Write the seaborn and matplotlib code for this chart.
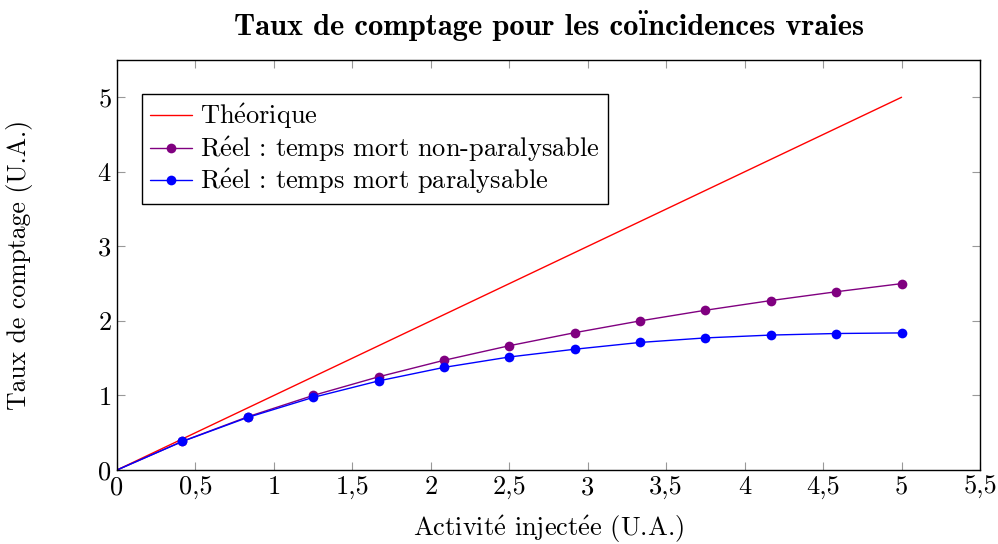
import matplotlib
matplotlib.use("Agg")
import matplotlib.pyplot as plt
import seaborn as sns
import pandas as pd
from matplotlib.ticker import FuncFormatter

# activity points (U.A.)
activite = [0, 0.417, 0.833, 1.25, 1.667, 2.083, 2.5, 2.917, 3.333, 3.75, 4.167, 4.583, 5]
theorique = [0, 0.417, 0.833, 1.25, 1.667, 2.083, 2.5, 2.917, 3.333, 3.75, 4.167, 4.583, 5]
non_paralysable = [0, 0.385, 0.714, 1.0, 1.25, 1.471, 1.667, 1.842, 2.0, 2.143, 2.273, 2.391, 2.5]
paralysable = [0, 0.383, 0.705, 0.974, 1.195, 1.376, 1.516, 1.620, 1.711, 1.772, 1.810, 1.831, 1.839]

# cmr10 has no precomposed accents, so build é with mathtext
E = r"$\acute{\mathrm{e}}$"
labels = ["Th" + E + "orique",
          "R" + E + "el : temps mort non-paralysable",
          "R" + E + "el : temps mort paralysable"]
xlabel = "Activit" + E + " inject" + E + "e (U.A.)"
ticks = [0, 0.5, 1, 1.5, 2, 2.5, 3, 3.5, 4, 4.5, 5, 5.5]

sns.set_style("ticks")
plt.rcParams["font.family"] = ["cmr10", "DejaVu Serif"]
plt.rcParams["axes.formatter.use_mathtext"] = True
plt.rcParams["mathtext.fontset"] = "cm"
plt.rcParams["text.color"] = "black"
plt.rcParams["axes.labelcolor"] = "black"

df = pd.DataFrame({"x": activite, "th": theorique, "np": non_paralysable, "p": paralysable})

fig = plt.figure(figsize=(9.98, 5.44), dpi=100)
ax = fig.add_axes([117 / 998, 1 - 470 / 544, (980 - 117) / 998, (470 - 60) / 544])

marks = list(range(1, len(activite)))
sns.lineplot(data=df, x="x", y="th", ax=ax, color="#ff0000", lw=1.0, label=labels[0])
sns.lineplot(data=df, x="x", y="np", ax=ax, color="#800080", lw=1.0, marker="o",
             markersize=7, markeredgewidth=0, markevery=marks, label=labels[1])
sns.lineplot(data=df, x="x", y="p", ax=ax, color="#0000ff", lw=1.0, marker="o",
             markersize=7, markeredgewidth=0, markevery=marks, label=labels[2])

ax.set_xlim(0, 5.5)
ax.set_ylim(0, 5.5)
ax.set_xticks(ticks)
ax.set_yticks([0, 1, 2, 3, 4, 5])
ax.xaxis.set_major_formatter(FuncFormatter(lambda v, p: f"{v:g}".replace(".", ",")))
ax.tick_params(direction="in", length=6, width=0.8, color="#999999", labelsize=19,
               top=True, right=True, labelcolor="black", pad=4)
for s in ax.spines.values():
    s.set_color("black")
    s.set_linewidth(1.0)

ax.set_xlabel(xlabel, fontsize=19, labelpad=10)
ax.set_ylabel("Taux de comptage (U.A.)", fontsize=18.5)
ax.yaxis.set_label_coords(-0.097, 0.5)
ax.set_title("Taux de comptage pour les coïncidences vraies", fontsize=22,
             fontfamily=["cmb10", "DejaVu Serif"], pad=18)

leg = ax.legend(loc="upper left", bbox_to_anchor=(0.029, 0.917), fontsize=19, frameon=True,
                fancybox=False, framealpha=1, edgecolor="black", handlelength=1.6,
                handletextpad=0.3, borderpad=0.3, labelspacing=0.12, borderaxespad=0)
leg.get_frame().set_linewidth(1.0)

fig.savefig("out.png", dpi=100)
